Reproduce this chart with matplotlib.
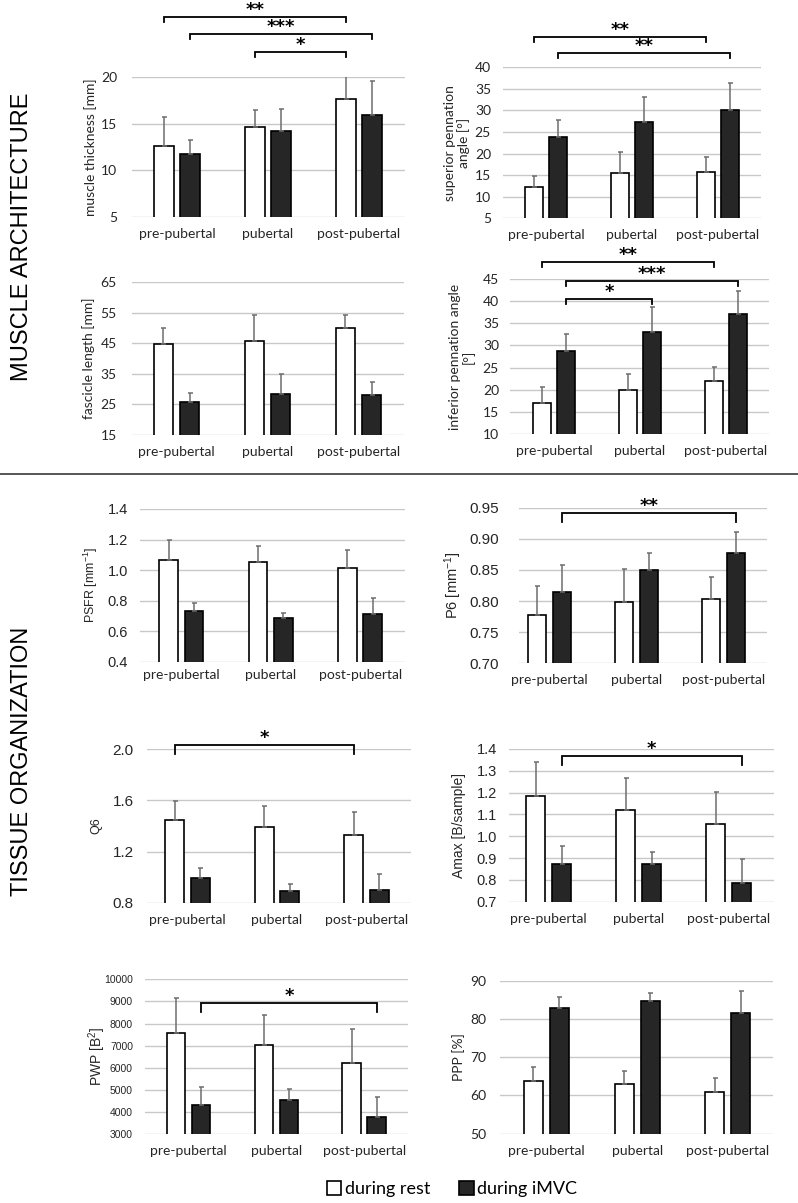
import numpy as np
import matplotlib.pyplot as plt
from matplotlib.lines import Line2D
from matplotlib.patches import Patch
from matplotlib.ticker import FormatStrFormatter

plt.rcParams['mathtext.fontset'] = 'custom'
plt.rcParams['mathtext.rm'] = 'Liberation Sans'
plt.rcParams['mathtext.it'] = 'Liberation Sans'

groups = ['pre-pubertal', 'pubertal', 'post-pubertal']
series = ['during rest', 'during iMVC']

# muscle architecture
thick_rest = [12.6, 14.6, 17.6]
thick_rest_sd = [3.1, 1.9, 3.1]
thick_mvc = [11.75, 14.25, 15.9]
thick_mvc_sd = [1.45, 2.35, 3.7]

sup_rest = [12.3, 15.5, 15.7]
sup_rest_sd = [2.4, 4.9, 3.4]
sup_mvc = [23.9, 27.25, 30.1]
sup_mvc_sd = [4.0, 5.75, 6.3]

fasc_rest = [44.8, 45.8, 50.0]
fasc_rest_sd = [5.2, 8.5, 4.3]
fasc_mvc = [25.8, 28.4, 28.1]
fasc_mvc_sd = [3.0, 6.4, 4.1]

inf_rest = [17.0, 19.8, 21.9]
inf_rest_sd = [3.5, 3.8, 3.3]
inf_mvc = [28.75, 33.1, 37.1]
inf_mvc_sd = [3.95, 5.6, 5.2]

# tissue organization
psfr_rest = [1.064, 1.051, 1.012]
psfr_rest_sd = [0.131, 0.109, 0.118]
psfr_mvc = [0.734, 0.684, 0.710]
psfr_mvc_sd = [0.048, 0.035, 0.105]

p6_rest = [0.778, 0.799, 0.803]
p6_rest_sd = [0.046, 0.053, 0.035]
p6_mvc = [0.815, 0.850, 0.878]
p6_mvc_sd = [0.043, 0.028, 0.033]

q6_rest = [1.447, 1.390, 1.332]
q6_rest_sd = [0.146, 0.164, 0.175]
q6_mvc = [0.996, 0.894, 0.899]
q6_mvc_sd = [0.075, 0.055, 0.126]

amax_rest = [1.185, 1.120, 1.056]
amax_rest_sd = [0.154, 0.149, 0.148]
amax_mvc = [0.873, 0.873, 0.784]
amax_mvc_sd = [0.084, 0.055, 0.113]

pwp_rest = [7590, 7030, 6210]
pwp_rest_sd = [1550, 1340, 1535]
pwp_mvc = [4340, 4560, 3800]
pwp_mvc_sd = [785, 470, 900]

ppp_rest = [63.7, 63.0, 61.0]
ppp_rest_sd = [3.8, 3.5, 3.5]
ppp_mvc = [82.9, 84.8, 81.55]
ppp_mvc_sd = [2.8, 2.1, 5.85]

# significance brackets: (group a, series a, group b, series b, stars, level)
thick_sig = [(0, 0, 2, 0, '**', 26.4), (0, 1, 2, 1, '***', 24.6), (1, 0, 2, 0, '*', 22.7)]
sup_sig = [(0, 0, 2, 0, '**', 47.0), (0, 1, 2, 1, '**', 43.3)]
inf_sig = [(0, 0, 2, 0, '**', 48.9), (0, 1, 2, 1, '***', 44.7), (0, 1, 1, 1, '*', 40.5)]
p6_sig = [(0, 1, 2, 1, '**', 0.941)]
q6_sig = [(0, 0, 2, 0, '*', 2.034)]
amax_sig = [(0, 1, 2, 1, '*', 1.368)]
pwp_sig = [(0, 1, 2, 1, '*', 8916)]

W, H = 798, 1203
CAL = 'Lato'
ARI = 'Liberation Sans'
TXT = '#262626'
BAR_W = 0.21
OFF = 0.143

fig = plt.figure(figsize=(W / 100, H / 100), dpi=100)


def panel(gl, c0, s, top, bottom, ylim, yticks, fmt, rest, rest_sd, mvc, mvc_sd,
          ylabel, lab_x, lab_font, lab_size, tick_font, tick_size, tick_pad,
          xpad=8, sig=(), tick_len=6):
    right = c0 + 2.5 * s
    ax = fig.add_axes([gl / W, 1 - bottom / H, (right - gl) / W, (bottom - top) / H])
    x = np.arange(len(groups))
    ekw = dict(ecolor='#6e6e6e', lw=1.1, capsize=1.8, capthick=1.1)
    ax.bar(x - OFF, rest, BAR_W, color='white', edgecolor='black', lw=1.2, zorder=3,
           yerr=[np.zeros(3), rest_sd], error_kw=ekw)
    ax.bar(x + OFF, mvc, BAR_W, color='#262626', edgecolor='black', lw=1.2, zorder=3,
           yerr=[np.zeros(3), mvc_sd], error_kw=ekw)
    ax.set_xlim(-(c0 - gl) / s, 2.5)
    ax.set_ylim(*ylim)
    ax.set_yticks(yticks)
    ax.yaxis.set_major_formatter(FormatStrFormatter(fmt))
    ax.set_xticks(x)
    ax.set_xticklabels(groups, family=CAL, fontsize=10, color=TXT)
    for lab in ax.get_yticklabels():
        lab.set_family(tick_font)
        lab.set_fontsize(tick_size)
        lab.set_color(TXT)
    ax.tick_params(axis='y', length=0, pad=tick_pad * 0.72)
    ax.tick_params(axis='x', length=0, pad=xpad)
    for sp in ax.spines.values():
        sp.set_visible(False)
    ax.set_axisbelow(True)
    ax.yaxis.grid(True, color='#c8c8c8', lw=1)
    fig.text(lab_x / W, 1 - (top + bottom) / 2 / H, ylabel, rotation=90, ha='center',
             va='center', family=lab_font, fontsize=lab_size, color=TXT, linespacing=1.1)
    dt = tick_len * (ylim[1] - ylim[0]) / (bottom - top)
    for ga, sa, gb, sb, stars, lvl in sig:
        xa = ga + (OFF if sa else -OFF)
        xb = gb + (OFF if sb else -OFF)
        ax.plot([xa, xa, xb, xb], [lvl - dt, lvl, lvl, lvl - dt], color='black', lw=1.3,
                clip_on=False, solid_joinstyle='miter')
        ax.annotate(stars, xy=((xa + xb) / 2, lvl), xytext=(0, 1.5), textcoords='offset points',
                    ha='center', va='baseline', fontsize=13, fontweight='bold',
                    family='DejaVu Sans', annotation_clip=False)
    return ax


panel(132, 177, 91, 77, 217, (5, 20), [5, 10, 15, 20], '%d',
      thick_rest, thick_rest_sd, thick_mvc, thick_mvc_sd,
      'muscle thickness [mm]', 91, CAL, 10, CAL, 10, 15, sig=thick_sig, tick_len=5)
panel(503, 546, 86, 67.3, 218.3, (5, 40), np.arange(5, 41, 5), '%d',
      sup_rest, sup_rest_sd, sup_mvc, sup_mvc_sd,
      'superior pennation\nangle [°]', 457, CAL, 10, CAL, 10, 12, sig=sup_sig, tick_len=5)
panel(131.7, 176.5, 91, 282.3, 434.7, (15, 65), np.arange(15, 66, 10), '%d',
      fasc_rest, fasc_rest_sd, fasc_mvc, fasc_mvc_sd,
      'fascicle length [mm]', 89, CAL, 10, CAL, 10, 15)
panel(510, 554, 86, 279.3, 433.7, (10, 45), np.arange(10, 46, 5), '%d',
      inf_rest, inf_rest_sd, inf_mvc, inf_mvc_sd,
      'inferior pennation angle\n[°]', 462, CAL, 10, CAL, 10, 11, sig=inf_sig, tick_len=5)
panel(140, 181.3, 89.4, 509, 661.7, (0.4, 1.4), np.arange(0.4, 1.41, 0.2), '%.1f',
      psfr_rest, psfr_rest_sd, psfr_mvc, psfr_mvc_sd,
      'PSFR [mm$^{-1}$]', 91, ARI, 9, ARI, 10.5, 12, xpad=5)
panel(519, 549.5, 86.9, 507.7, 663.3, (0.70, 0.95), np.arange(0.70, 0.951, 0.05), '%.2f',
      p6_rest, p6_rest_sd, p6_mvc, p6_mvc_sd,
      'P6 [mm$^{-1}$]', 453, ARI, 10.5, ARI, 11, 20, sig=p6_sig, tick_len=9)
panel(146.7, 187.5, 89.5, 749.3, 902.7, (0.8, 2.0), [0.8, 1.2, 1.6, 2.0], '%.1f',
      q6_rest, q6_rest_sd, q6_mvc, q6_mvc_sd,
      'Q6', 96, ARI, 9, ARI, 11, 13, sig=q6_sig, tick_len=9)
panel(509, 548.7, 90, 749, 901.7, (0.7, 1.4), np.arange(0.7, 1.41, 0.1), '%.1f',
      amax_rest, amax_rest_sd, amax_mvc, amax_mvc_sd,
      'Amax [B/sample]', 459, ARI, 10, ARI, 10.5, 12, sig=amax_sig, tick_len=9)
panel(145, 188.7, 87.7, 979.3, 1134.3, (3000, 10000), np.arange(3000, 10001, 1000), '%d',
      pwp_rest, pwp_rest_sd, pwp_mvc, pwp_mvc_sd,
      'PWP [B$^2$]', 97, ARI, 10, ARI, 7.5, 12, sig=pwp_sig, tick_len=9)
panel(500, 546.3, 90.8, 980.7, 1133.7, (50, 90), np.arange(50, 91, 10), '%d',
      ppp_rest, ppp_rest_sd, ppp_mvc, ppp_mvc_sd,
      'PPP [%]', 459, CAL, 10, CAL, 10, 14)

fig.text(22 / W, 1 - 237 / H, 'MUSCLE ARCHITECTURE', rotation=90, ha='center', va='center',
         family=ARI, fontsize=17, color='black')
fig.text(22 / W, 1 - 761 / H, 'TISSUE ORGANIZATION', rotation=90, ha='center', va='center',
         family=ARI, fontsize=17, color='black')
fig.add_artist(Line2D([0, 1], [1 - 474 / H, 1 - 474 / H], color='#3a3a3a', lw=1.2))

handles = [Patch(facecolor='white', edgecolor='black', lw=1.2),
           Patch(facecolor='#262626', edgecolor='black', lw=1.2)]
fig.legend(handles, series, loc='center', bbox_to_anchor=(452 / W, 1 - 1189 / H), ncol=2,
           frameon=False, handlelength=0.8, handleheight=0.8, handletextpad=0.2,
           columnspacing=1.6, prop={'family': CAL, 'size': 13})

fig.savefig('out.png', dpi=100)
